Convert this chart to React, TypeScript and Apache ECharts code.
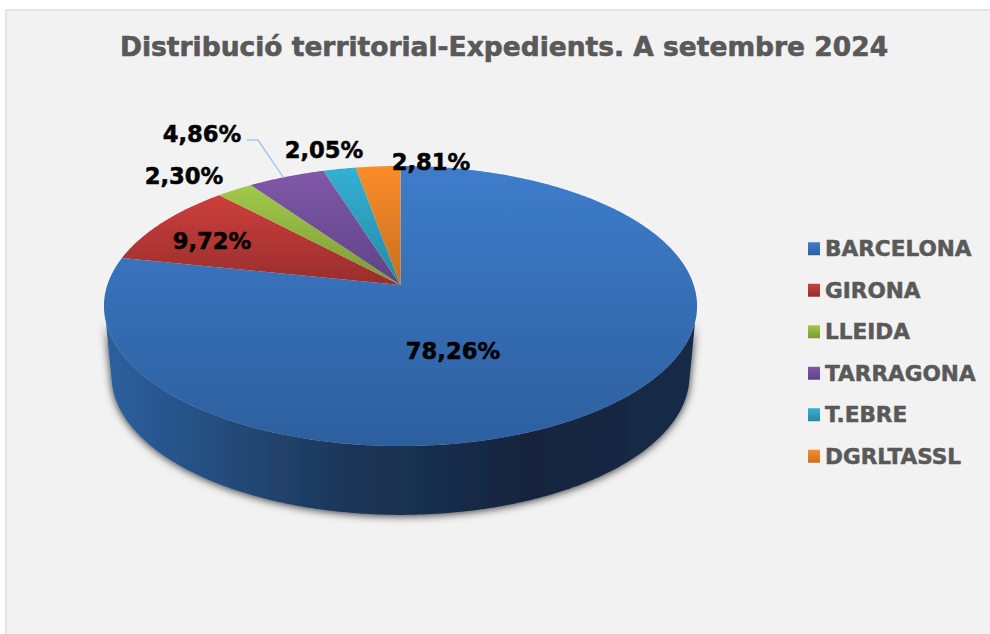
import React, { useEffect, useRef } from "react";
import * as echarts from "echarts";

const TITLE = "Distribució territorial-Expedients. A setembre 2024";
const categories = ["BARCELONA", "GIRONA", "LLEIDA", "TARRAGONA", "T.EBRE", "DGRLTASSL"];
const shares = [78.26, 9.72, 2.3, 4.86, 2.05, 2.81];

const topColors = [
  ["#3e7dcb", "#2d5f9e"],
  ["#cd3f3c", "#982e2d"],
  ["#a1c94a", "#7c9a35"],
  ["#8058a8", "#5e4385"],
  ["#33b1d4", "#2888a5"],
  ["#fb8d28", "#c76f20"],
];
// label centres, one per category
const labelCentres = [
  [453, 351],
  [212, 241],
  [184, 176],
  [202, 134],
  [324, 150],
  [431, 162],
];

const FONT = "'DejaVu Sans', Verdana, sans-serif";
const K = 0.15;
const TOP = { cx: 400.5, cy: 285, A: 293.2, B: 136.9 };
const BOTTOM = { cx: 400.5, cy: 355, A: 285.7, B: 135.9 };
const SIDE_TOP = [105, 255];
const SIDE_BOTTOM = [101, 259];

function project(p: typeof TOP, deg: number): number[] {
  const t = (deg * Math.PI) / 180;
  const u = Math.sin(t);
  const v = Math.cos(t);
  const d = 1 + K * v;
  return [p.cx + (p.A * u) / d, p.cy - (p.B * v) / d];
}

function arc(p: typeof TOP, a: number, b: number): number[][] {
  const n = Math.max(2, Math.ceil(Math.abs(b - a) * 2));
  const pts: number[][] = [];
  for (let i = 0; i <= n; i++) pts.push(project(p, a + ((b - a) * i) / n));
  return pts;
}

const vGrad = (c: string[]) =>
  new echarts.graphic.LinearGradient(0, 0, 0, 1, [
    { offset: 0, color: c[0] },
    { offset: 1, color: c[1] },
  ]);

const sideGrad = new (echarts.graphic.LinearGradient as any)(
  105,
  0,
  695,
  0,
  [
    { offset: 0, color: "#2b609f" },
    { offset: 0.2, color: "#254c7c" },
    { offset: 0.41, color: "#1b3658" },
    { offset: 0.5, color: "#1a3252" },
    { offset: 0.72, color: "#13243d" },
    { offset: 1, color: "#172c48" },
  ],
  true
);

const fmt = (v: number) => v.toFixed(2).replace(".", ",") + "%";

function makeRender(index: number) {
  const total = shares.reduce((s, x) => s + x, 0);
  const before = shares.slice(0, index).reduce((s, x) => s + x, 0);
  return (_params: any, api: any) => {
    const value = api.value(0) as number;
    const start = (before / total) * 360;
    const end = start + (value / total) * 360;
    const children: any[] = [];

    const tA = Math.max(start, SIDE_TOP[0]);
    const tB = Math.min(end, SIDE_TOP[1]);
    if (tB > tA) {
      const bA = Math.max(start, SIDE_BOTTOM[0]);
      const bB = Math.min(end, SIDE_BOTTOM[1]);
      const outline = [...arc(TOP, tA, tB), ...arc(BOTTOM, bB, bA)];
      children.push({
        type: "polygon",
        shape: { points: outline },
        style: {
          fill: sideGrad,
          shadowBlur: 8,
          shadowColor: "rgba(0,0,0,0.8)",
          shadowOffsetX: 0,
          shadowOffsetY: 1,
        },
      });
    }

    children.push({
      type: "polygon",
      shape: { points: [[TOP.cx, TOP.cy], ...arc(TOP, start, end)] },
      style: { fill: vGrad(topColors[index]) },
    });

    if (index === 3) {
      const m = project(TOP, start + (end - start) * 0.46);
      children.push({
        type: "polyline",
        shape: { points: [[247, 140], [258, 140], m] },
        style: { stroke: "#a7c6ea", lineWidth: 1.5, fill: "none" },
      });
    }

    children.push({
      type: "text",
      z2: 50,
      x: labelCentres[index][0],
      y: labelCentres[index][1],
      style: {
        text: fmt(value),
        fontFamily: FONT,
        fontWeight: "bold",
        fontSize: 22.7,
        fill: "#000000",
        stroke: "#000000",
        lineWidth: 0.5,
        align: "center",
        verticalAlign: "middle",
      },
    });
    return { type: "group", children };
  };
}

export default function App() {
  const ref = useRef<HTMLDivElement>(null);
  useEffect(() => {
    const chart = echarts.init(ref.current!, undefined, { renderer: "svg" });
    chart.setOption({
      animation: false,
      backgroundColor: "#ffffff",
      graphic: [
        {
          type: "rect",
          z: -10,
          silent: true,
          shape: { x: 6, y: 10, width: 1000, height: 640 },
          style: { fill: "#f2f2f2", stroke: "#dce6f2", lineWidth: 2 },
        },
      ],
      title: {
        text: TITLE,
        left: 120,
        top: 33,
        padding: 0,
        textStyle: {
          fontFamily: FONT,
          fontWeight: "bold",
          fontSize: 26.5,
          color: "#595959",
          textBorderColor: "#595959",
          textBorderWidth: 0.6,
        },
      },
      legend: {
        orient: "vertical",
        left: 808,
        top: 237.5,
        itemWidth: 12,
        itemHeight: 13,
        itemGap: 19,
        padding: 0,
        selectedMode: false,
        icon: "rect",
        textStyle: {
          fontFamily: FONT,
          fontWeight: "bold",
          fontSize: 21.6,
          lineHeight: 22,
          color: "#595959",
          textBorderColor: "#595959",
          textBorderWidth: 0.5,
        },
        data: categories.map((name, i) => ({ name, itemStyle: { color: vGrad(topColors[i]) } })),
      },
      series: categories.map((name, i) => ({
        type: "custom",
        name,
        coordinateSystem: "none",
        silent: true,
        itemStyle: { color: topColors[i][0] },
        data: [[shares[i]]],
        encode: { value: 0 },
        renderItem: makeRender(i),
      })),
    });
    return () => chart.dispose();
  }, []);
  return <div ref={ref} style={{ position: "fixed", left: 0, top: 0, width: 990, height: 634 }} />;
}
